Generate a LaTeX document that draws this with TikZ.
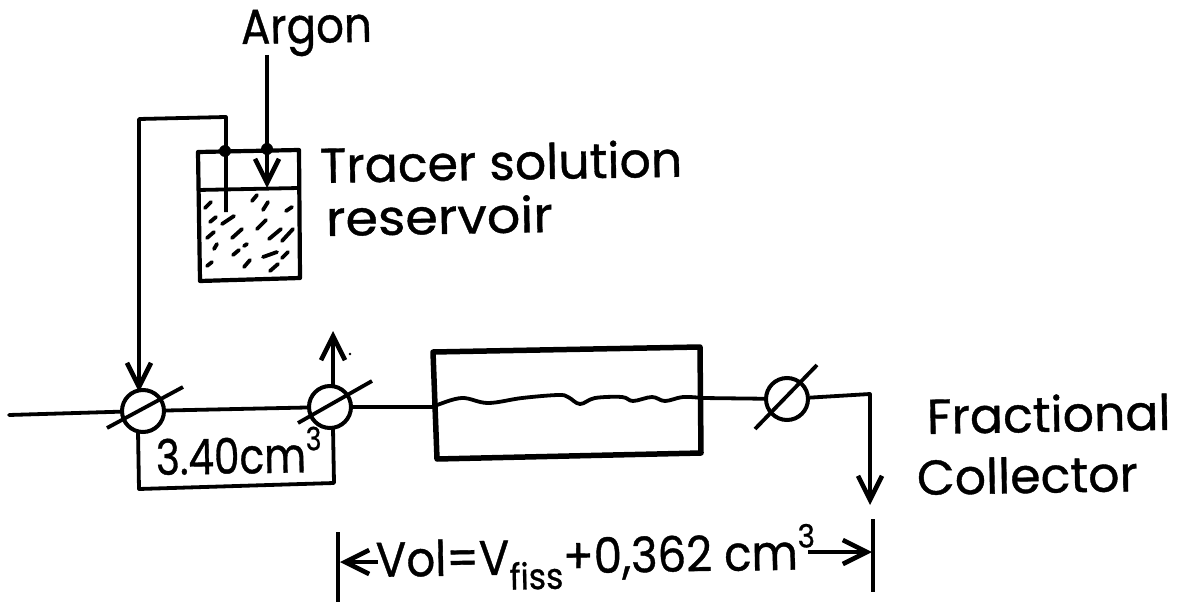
\documentclass[tikz,border=0pt]{standalone}
\usepackage{fontspec}
\usepackage{graphicx}
\setmainfont[FakeBold=0.8]{Poppins}
\usetikzlibrary{arrows.meta}
\newcommand{\lowtxt}[1]{\raisebox{-15pt}{\fontsize{36}{38}\selectfont #1}}
\newcommand{\hightxt}[1]{\raisebox{22pt}{\fontsize{32}{34}\selectfont #1}}
\tikzset{
  x=1pt,y=-1pt,
  pipe/.style={draw=black,line width=3.8pt,line join=round},
  flow/.style={pipe,-{Straight Barb[length=24pt,width=24pt,line width=4.6pt]}},
  valve/.style={circle,draw=black,line width=4pt,minimum size=42pt,inner sep=0pt},
  slash/.style={draw=black,line width=3.8pt},
  lbl/.style={inner sep=0pt,anchor=base west,rotate=1,font=\fontsize{49}{52}\selectfont},
  speck/.style={draw=black,line width=3.8pt,line cap=round},
  vessel/.style={draw=black,line width=4.2pt,line join=round},
  dot/.style={circle,fill=black,inner sep=0pt,minimum size=12pt}
}
\begin{document}
\begin{tikzpicture}
\useasboundingbox (0,0) rectangle (1186,602);
% labels
\node[lbl] (argon) at (241,44) {\scalebox{.89}[1]{Argon}};
\node[lbl] (tracer) at (320,183) {Tracer solution};
\node[lbl] (resv) at (326,236) {\scalebox{1.07}[1]{reservoir}};
\node[lbl] (frac) at (927,434) {Fractional};
\node[lbl] (coll) at (917,495) {Collector};
\node[lbl] (vol) at (376,577) {\scalebox{.92}[1]{Vol=V\lowtxt{fiss}+0,362 cm\hightxt{3}}};
\node[lbl] (cap) at (156,475) {\scalebox{.83}[1]{3.40cm\hightxt{3}}};
% reservoir
\draw[vessel] (198,152) -- (299,150) -- (300,278) -- (200,281) -- cycle;
\coordinate (divl) at (198,190);
\coordinate (divr) at (299,188);
\draw[pipe] (divl) -- (divr);
\node[dot] (d1) at (225,151) {};
\node[dot] (d2) at (267,149) {};
\coordinate (argtop) at (267,55);
\coordinate (argend) at (267,188);
\draw[flow] (argtop) -- (argend);
\coordinate (dip) at (226,212);
\coordinate (pt1) at (226,117);
\coordinate (pt2) at (139,119);
% valves
\node[valve] (v1) at (143,411) {};
\node[valve] (v2) at (330,407) {};
\node[valve] (v3) at (787,399) {};
\coordinate (v1in) at (139,392);
\draw[flow] (dip) -- (pt1) -- (pt2) -- (v1in);
\draw[slash] (107,428) -- (183,387);
\draw[slash] (298,423) -- (372,381);
\draw[slash] (755,429) -- (817,365);
% main line
\coordinate (in) at (9,415);
\coordinate (colL) at (433,407);
\coordinate (colR) at (702,398);
\draw[pipe,line cap=round] (in) -- (v1);
\draw[pipe] (v1) -- (v2);
\draw[pipe] (v2) -- (colL);
\draw[pipe] (colR) -- (v3);
\coordinate (c1) at (870,394);
\coordinate (c2) at (870,505);
\draw[flow] (v3) -- (c1) -- (c2);
\coordinate (up) at (333,331);
\draw[flow] (333,387) -- (up);
\fill (350,354) circle (1.4);
% loop
\coordinate (l0) at (138,431);
\coordinate (l1) at (139,489);
\coordinate (l2) at (334,483);
\coordinate (l3) at (333,428);
\draw[pipe] (l0) -- (l1) -- (l2) -- (l3);
% column
\draw[draw=black,line width=5.5pt,line join=round] (433,352) -- (700,347) -- (701,453) -- (437,459) -- cycle;
\draw[pipe] plot[smooth,tension=.6] coordinates {(433,407) (437,405) (462,398) (488,403) (522,398) (558,395) (568,397) (580,404) (595,398) (622,397) (633,401) (652,397) (665,401) (683,397) (702,398)};
% dimension
\coordinate (t1a) at (338,532);
\coordinate (t1b) at (338,602);
\coordinate (t2a) at (873,519);
\coordinate (t2b) at (873,592);
\draw[pipe] (t1a) -- (t1b);
\draw[pipe] (t2a) -- (t2b);
\draw[flow] (378,562) -- (340,562);
\draw[flow] (808,552) -- (872,552);
% specks
\foreach \a/\b/\c/\d in {205/208/211/202, 210/222/216/217, 222/224/234/216, 207/238/214/232, 232/238/242/229, 214/249/217/244, 233/255/239/250, 244/246/247/244, 207/266/212/262, 244/267/250/260, 252/201/257/195, 263/210/268/202, 257/229/266/220, 269/239/281/229, 282/241/293/229, 286/211/292/207, 263/257/277/252, 282/258/288/252, 270/271/278/264}
  \draw[speck] (\a,\b) -- (\c,\d);
\end{tikzpicture}
\end{document}
